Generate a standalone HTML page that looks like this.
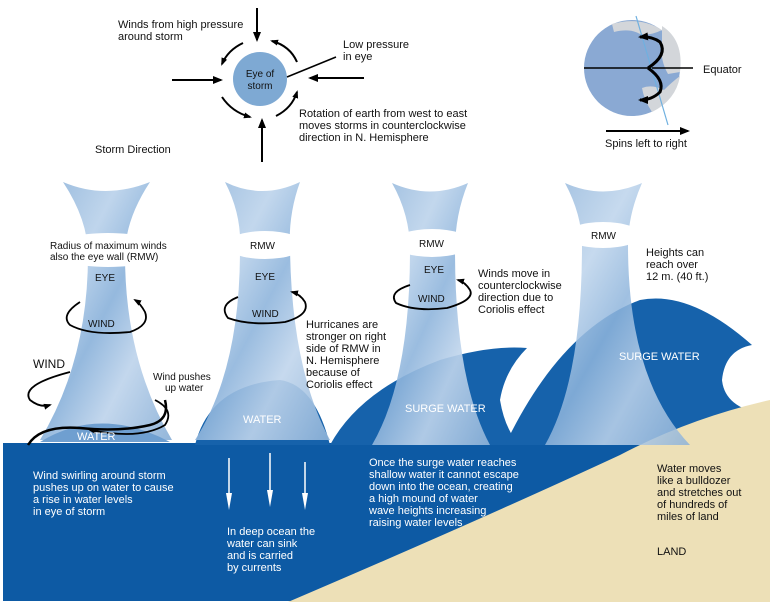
<!DOCTYPE html>
<html><head><style>
body{margin:0;background:#fff;}
svg{display:block;font-family:"Liberation Sans",sans-serif;}
</style></head><body>
<svg width="774" height="606" viewBox="0 0 774 606">
<defs>
<linearGradient id="fg" x1="0" y1="0" x2="1" y2="1">
<stop offset="0" stop-color="#8fb4da"/><stop offset="0.3" stop-color="#bcd3eb"/><stop offset="0.5" stop-color="#8fb5dc"/><stop offset="0.7" stop-color="#c0d5ec"/><stop offset="1" stop-color="#8db2d8"/>
</linearGradient>
<marker id="ah" markerUnits="userSpaceOnUse" markerWidth="10" markerHeight="10" refX="8" refY="5" orient="auto"><path d="M0,1 L10,5 L0,9 Z" fill="#000"/></marker>
<marker id="as" markerUnits="userSpaceOnUse" markerWidth="8" markerHeight="8" refX="6" refY="4" orient="auto"><path d="M0,1 L8,4 L0,7 Z" fill="#000"/></marker>
</defs>

<rect x="3" y="443" width="767" height="158" fill="#0d5aa4"/>
<path d="M195,445 Q210,385 280,380 Q315,385 330,445 Z" fill="#1662ab"/>
<path d="M330,445 Q360,390 440,360 Q490,345 527,348 Q505,370 500,400 Q505,430 520,445 Z" fill="#1662ab"/>
<path d="M505,445 Q560,330 640,300 Q690,290 752,345 Q725,350 722,380 Q725,410 770,415 L770,445 Z" fill="#1662ab"/>
<path d="M288,602 Q480,520 620,455 Q690,418 770,400 L770,602 Z" fill="#ede0b7"/>

<path d="M63,182 Q105,200 150,182 Q125,220 125,255 Q125,360 172,440 L40,440 Q88,360 88,255 Q88,220 63,182 Z" fill="url(#fg)" opacity="0.95"/>
<path d="M225,182 Q262,200 300,182 Q288,215 290,250 Q292,370 330,440 L195,440 Q240,370 240,250 Q242,215 225,182 Z" fill="url(#fg)" opacity="0.9"/>
<path d="M392,183 Q430,200 468,183 Q455,215 455,250 Q455,380 490,445 L372,445 Q410,380 410,250 Q410,215 392,183 Z" fill="url(#fg)" opacity="0.9"/>
<path d="M565,183 Q603,200 642,183 Q628,215 628,245 Q628,380 690,445 L545,445 Q582,380 582,245 Q582,215 565,183 Z" fill="url(#fg)" opacity="0.85"/>
<path d="M40,442 Q100,405 170,442 Z" fill="#6f9fd0"/>
<ellipse cx="108" cy="250" rx="58" ry="17" fill="#fff"/>
<ellipse cx="265" cy="245" rx="40" ry="14" fill="#fff"/>
<ellipse cx="432" cy="243" rx="40" ry="14" fill="#fff"/>
<ellipse cx="603" cy="235" rx="38" ry="13" fill="#fff"/>

<g font-size="10" fill="#111">
<text x="50" y="249">Radius of maximum winds</text>
<text x="50" y="260">also the eye wall   (RMW)</text>
<text x="250" y="249">RMW</text>
<text x="419" y="247">RMW</text>
<text x="591" y="239">RMW</text>
<text x="95" y="281">EYE</text>
<text x="255" y="280">EYE</text>
<text x="424" y="273">EYE</text>
<text x="88" y="327">WIND</text>
<text x="252" y="317">WIND</text>
<text x="418" y="302">WIND</text>
<text x="153" y="380">Wind pushes</text>
<text x="165" y="391">up water</text>
</g>
<text x="33" y="368" font-size="12" fill="#111">WIND</text>

<g fill="none" stroke="#000" stroke-width="1.8">
<path d="M80,302 Q60,315 70,325 Q90,336 130,332 Q150,325 145,312 Q140,303 135,300" marker-end="url(#as)"/>
<path d="M238,297 Q218,305 228,318 Q250,326 285,322 Q310,315 305,302 Q300,294 292,292" marker-end="url(#as)"/>
<path d="M410,285 Q388,292 396,303 Q415,312 447,308 Q475,300 470,290 Q465,282 458,280" marker-end="url(#as)"/>
<path d="M70,372 Q20,385 30,400 Q40,408 50,405" marker-end="url(#as)"/>
<path d="M155,400 Q175,410 165,425 Q140,440 90,430" marker-end="url(#as)"/>
<path d="M28,445 Q40,425 80,428 Q120,432 150,425 Q170,420 165,400" stroke-width="2.5"/>
</g>

<g fill="#fff" font-size="11">
<text x="77" y="440">WATER</text>
<text x="243" y="423">WATER</text>
<text x="405" y="412">SURGE WATER</text>
<text x="619" y="360">SURGE WATER</text>
<text x="33" y="479">Wind swirling around storm</text>
<text x="33" y="491">pushes up on water to cause</text>
<text x="33" y="503">a rise in water levels</text>
<text x="33" y="515">in eye of storm</text>
<text x="227" y="535">In deep ocean the</text>
<text x="227" y="547">water can sink</text>
<text x="227" y="559">and is carried</text>
<text x="227" y="571">by currents</text>
<text x="369" y="466">Once the surge water reaches</text>
<text x="369" y="478">shallow water it cannot escape</text>
<text x="369" y="490">down into the ocean, creating</text>
<text x="369" y="502">a high mound of water</text>
<text x="369" y="514">wave heights increasing</text>
<text x="369" y="526">raising water levels</text>
</g>
<g stroke="#fff" stroke-width="1.5">
<line x1="229" y1="458" x2="229" y2="495"/>
<line x1="270" y1="453" x2="270" y2="492"/>
<line x1="305" y1="462" x2="305" y2="495"/>
</g>
<g fill="#fff">
<path d="M226,493 L229,510 L232,493 Z"/>
<path d="M267,490 L270,507 L273,490 Z"/>
<path d="M302,493 L305,510 L308,493 Z"/>
</g>
<g fill="#111" font-size="11">
<text x="657" y="472">Water moves</text>
<text x="657" y="484">like a bulldozer</text>
<text x="657" y="496">and stretches out</text>
<text x="657" y="508">of hundreds of</text>
<text x="657" y="520">miles of land</text>
<text x="657" y="555">LAND</text>
<text x="306" y="328">Hurricanes are</text>
<text x="306" y="340">stronger on right</text>
<text x="306" y="352">side of RMW in</text>
<text x="306" y="364">N. Hemisphere</text>
<text x="306" y="376">because of</text>
<text x="306" y="388">Coriolis effect</text>
<text x="478" y="277">Winds move in</text>
<text x="478" y="289">counterclockwise</text>
<text x="478" y="301">direction due to</text>
<text x="478" y="313">Coriolis effect</text>
<text x="646" y="256">Heights can</text>
<text x="646" y="268">reach over</text>
<text x="646" y="280">12 m. (40 ft.)</text>
<text x="95" y="153">Storm Direction</text>
<text x="118" y="28">Winds from high pressure</text>
<text x="118" y="40">around storm</text>
<text x="343" y="48">Low pressure</text>
<text x="343" y="60">in eye</text>
<text x="299" y="117">Rotation of earth from west to east</text>
<text x="299" y="129">moves storms in counterclockwise</text>
<text x="299" y="141">direction in N. Hemisphere</text>
<text x="703" y="73">Equator</text>
<text x="605" y="147">Spins left to right</text>
</g>

<circle cx="260" cy="79" r="27" fill="#7ea9d3"/>
<text x="260" y="77" font-size="10" text-anchor="middle" fill="#111">Eye of</text>
<text x="260" y="89" font-size="10" text-anchor="middle" fill="#111">storm</text>
<g stroke="#000" stroke-width="2" fill="none">
<line x1="257" y1="8" x2="257" y2="40" marker-end="url(#ah)"/>
<line x1="262" y1="162" x2="262" y2="120" marker-end="url(#ah)"/>
<line x1="172" y1="80" x2="221" y2="80" marker-end="url(#ah)"/>
<line x1="364" y1="78" x2="310" y2="78" marker-end="url(#ah)"/>
<line x1="287" y1="77" x2="336" y2="57" stroke-width="1.5"/>
<path d="M243,43 Q228,50 222,64" marker-end="url(#as)"/>
<path d="M222,97 Q232,112 250,117" marker-end="url(#as)"/>
<path d="M276,116 Q292,108 297,92" marker-end="url(#as)"/>
<path d="M297,62 Q290,46 272,41" marker-end="url(#as)"/>
</g>

<!-- globe -->
<circle cx="632" cy="68" r="48" fill="#8aa9d3"/>
<path d="M612,24 Q640,16 662,30 Q650,36 640,34 Q630,28 614,32 Z" fill="#d3d6da"/>
<path d="M662,26 Q684,40 680,72 L668,74 Q660,60 662,46 Z" fill="#d3d6da"/>
<path d="M680,76 Q676,100 652,112 Q644,100 642,88 Q652,84 664,90 Q672,82 680,76 Z" fill="#d3d6da"/>
<line x1="584" y1="68" x2="693" y2="68" stroke="#000" stroke-width="1.5"/>
<line x1="636" y1="16" x2="668" y2="125" stroke="#6fb0e0" stroke-width="1.2"/>
<g stroke="#000" stroke-width="3" fill="none">
<path d="M648,68 Q668,55 660,42 Q652,36 640,37" marker-end="url(#ah)"/>
<path d="M648,68 Q665,80 660,92 Q652,100 640,100" marker-end="url(#ah)"/>
</g>
<line x1="606" y1="131" x2="688" y2="131" stroke="#000" stroke-width="2" marker-end="url(#ah)"/>
</svg>
</body></html>
